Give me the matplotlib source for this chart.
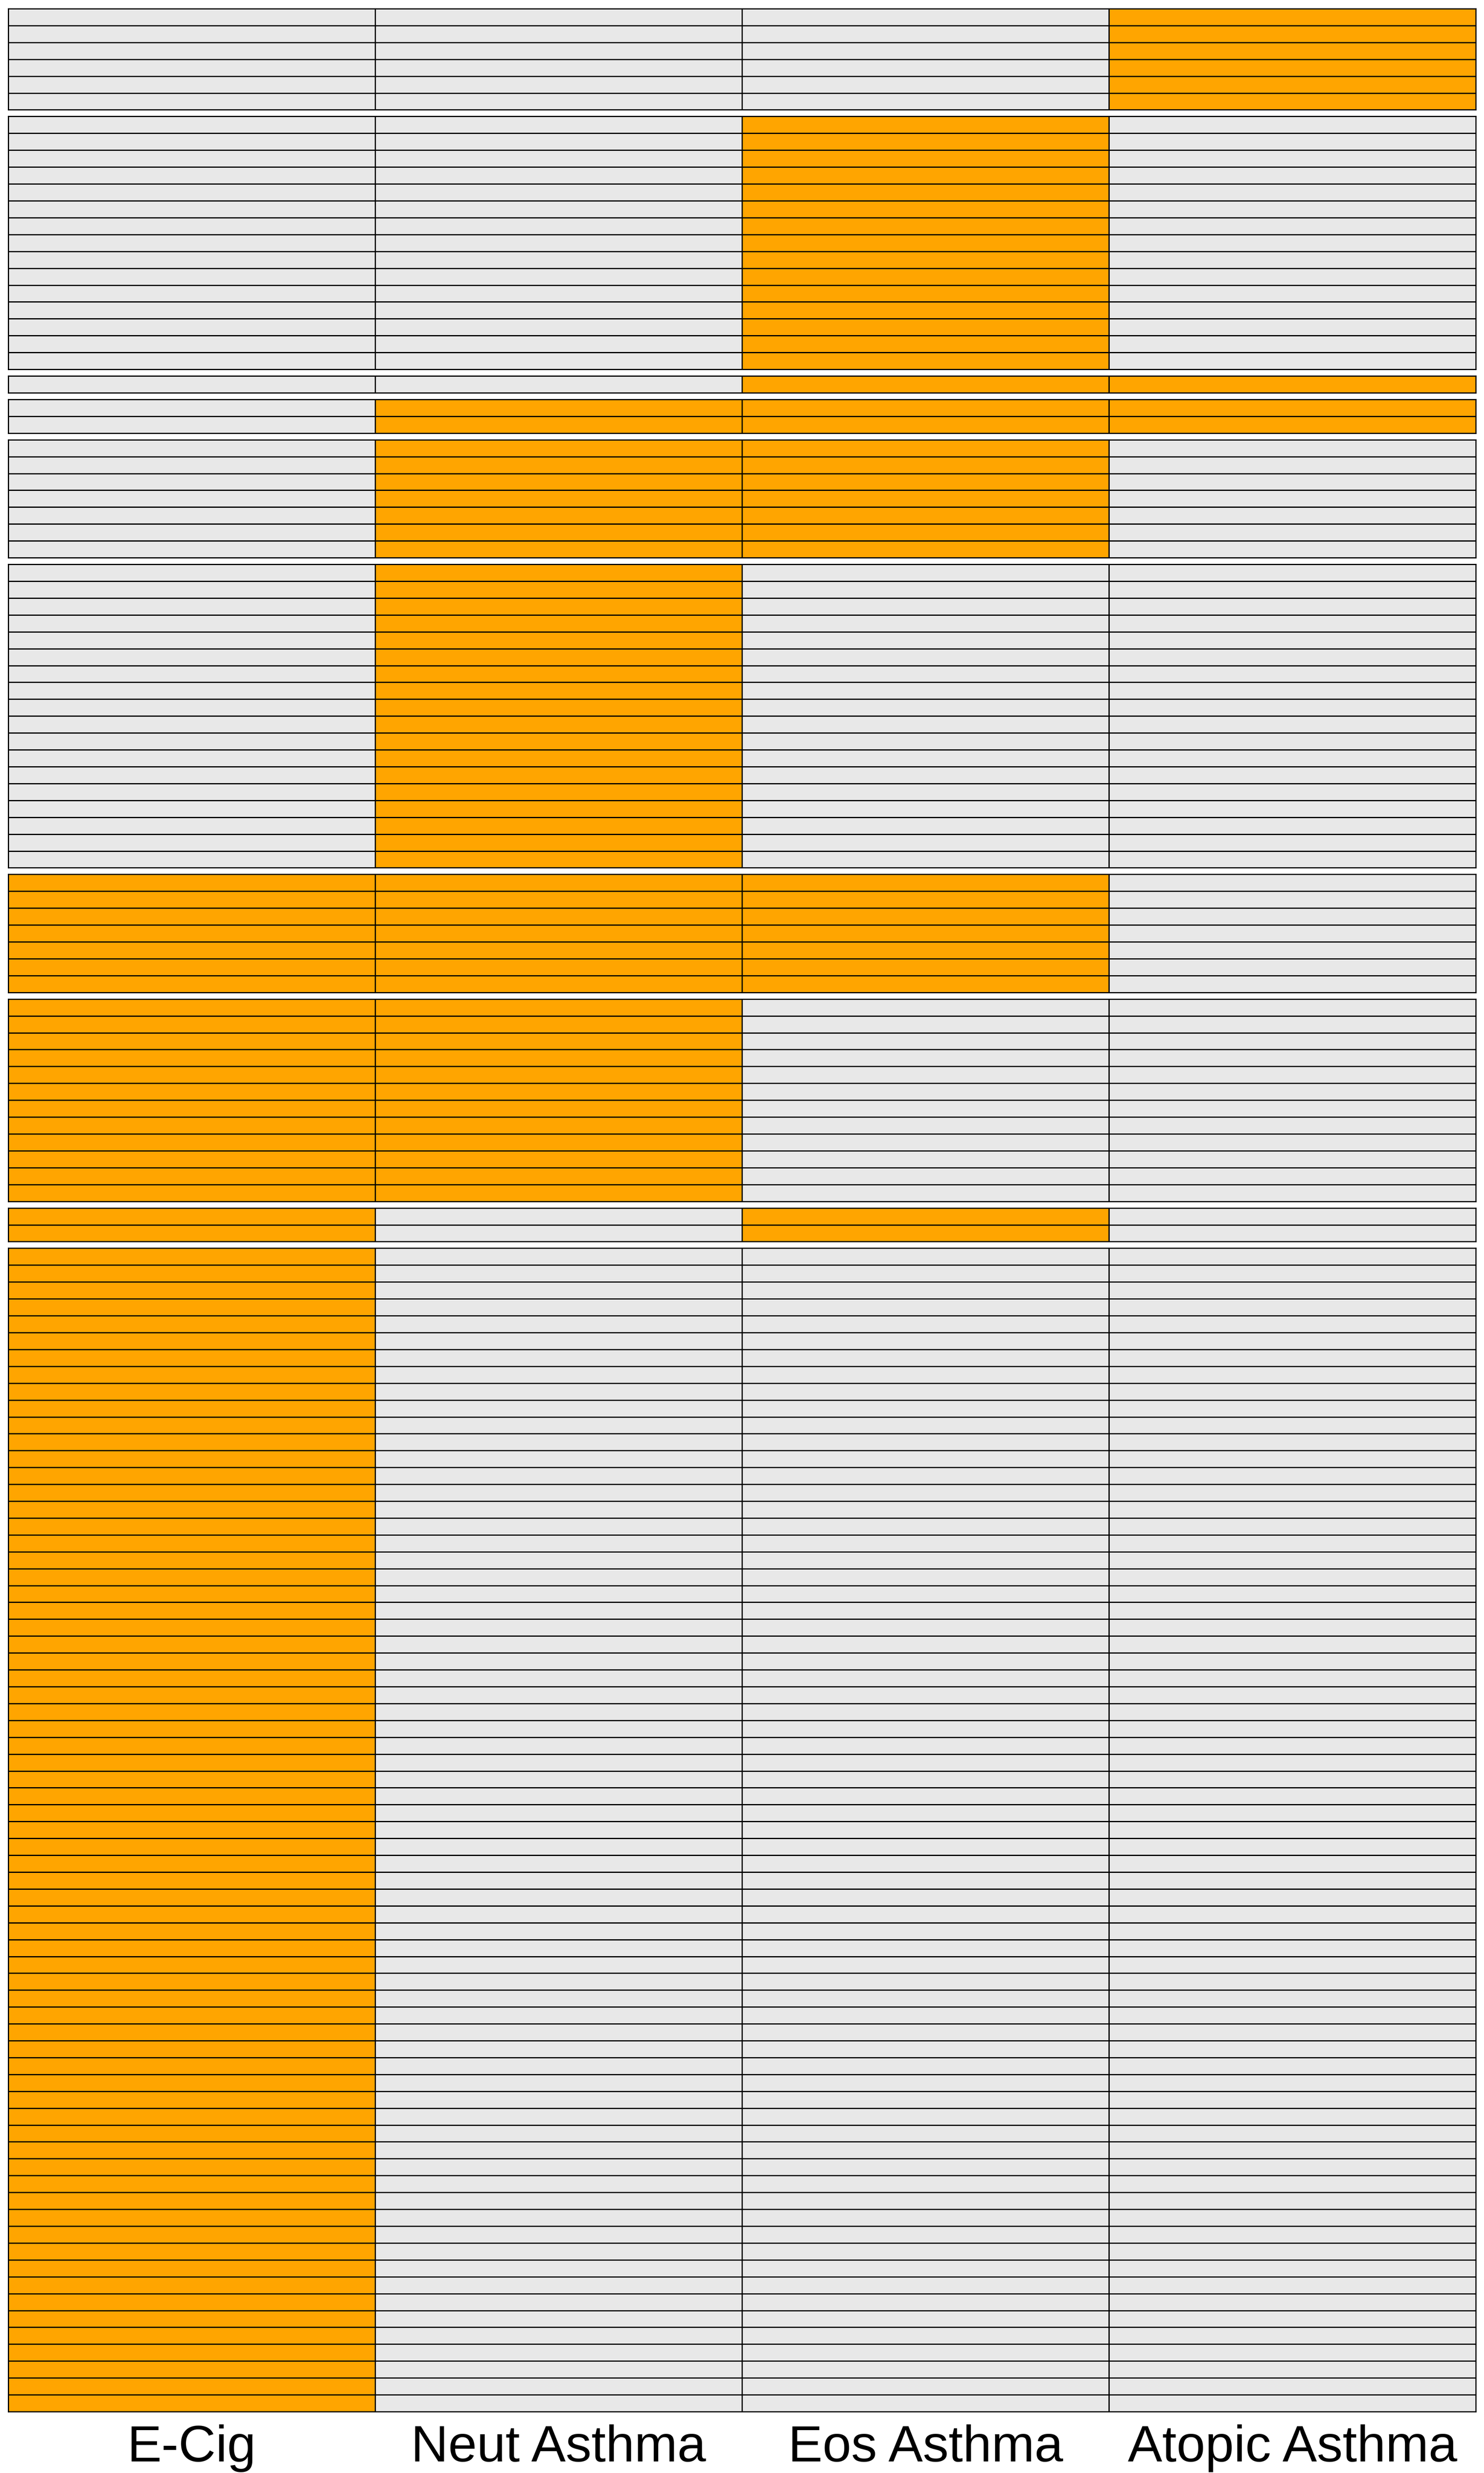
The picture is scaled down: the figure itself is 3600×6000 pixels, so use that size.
import numpy as np
import matplotlib
matplotlib.use("Agg")
import matplotlib.pyplot as plt
from matplotlib.colors import ListedColormap

plt.rcParams['font.family'] = ['Liberation Sans', 'DejaVu Sans']

# gene sets (columns)
set_names = ["E-Cig", "Neut Asthma", "Eos Asthma", "Atopic Asthma"]

# membership pattern of each block (1 = gene is in that set), top to bottom
block_patterns = [
    [0, 0, 0, 1],
    [0, 0, 1, 0],
    [0, 0, 1, 1],
    [0, 1, 1, 1],
    [0, 1, 1, 0],
    [0, 1, 0, 0],
    [1, 1, 1, 0],
    [1, 1, 0, 0],
    [1, 0, 1, 0],
    [1, 0, 0, 0],
]
# number of genes (rows) in each block
block_sizes = [6, 15, 1, 2, 7, 18, 7, 12, 2, 69]

cmap = ListedColormap(["#E8E8E8", "#FFA500"])

W, H = 3600, 6000
fig = plt.figure(figsize=(W / 100, H / 100), dpi=100)

left, right = 20, 3580
top, bottom = 21, 5851
gap = 16
n_rows = sum(block_sizes)
row_h = (bottom - top - gap * (len(block_sizes) - 1)) / n_rows

y = top
axes = []
for pattern, size in zip(block_patterns, block_sizes):
    h = size * row_h
    ax = fig.add_axes([left / W, 1 - (y + h) / H, (right - left) / W, h / H])
    mat = np.tile(pattern, (size, 1))
    ax.pcolormesh(mat, cmap=cmap, vmin=0, vmax=1,
                  edgecolors="black", linewidth=1.8)
    ax.set_xlim(0, len(set_names))
    ax.set_ylim(size, 0)
    ax.set_xticks([])
    ax.set_yticks([])
    for sp in ax.spines.values():
        sp.set_linewidth(2.0)
        sp.set_color("black")
    axes.append(ax)
    y += h + gap

ax = axes[-1]
label_y = -(5972 - bottom) / (block_sizes[-1] * row_h)
for i, name in enumerate(set_names):
    ax.text(i + 0.5, label_y, name, transform=ax.get_xaxis_transform(),
            ha="center", va="baseline", fontsize=90, color="black")

fig.savefig("out.png", dpi=100)
